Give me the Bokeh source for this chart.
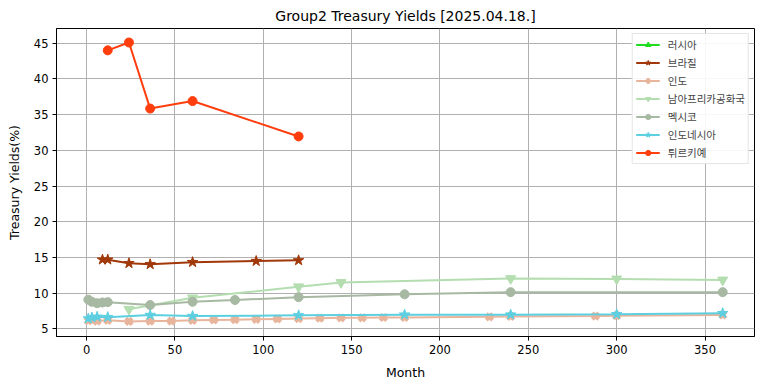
import math
from bokeh.plotting import figure
from bokeh.models import Range1d, FixedTicker, Legend
from bokeh.embed import file_html
from bokeh.resources import INLINE

title = "Group2 Treasury Yields [2025.04.18.]"
x_label = "Month"
y_label = "Treasury Yields(%)"
x_ticks = [0, 50, 100, 150, 200, 250, 300, 350]
y_ticks = [5, 10, 15, 20, 25, 30, 35, 40, 45]

# Russia has no plotted values in the reference (only a legend entry)
russia_m = [float("nan")]
russia_y = [float("nan")]
brazil_m = [9, 12, 24, 36, 60, 96, 120]
brazil_y = [14.7, 14.7, 14.2, 14.05, 14.35, 14.5, 14.6]
india_m = [1, 3, 6, 12, 24, 36, 48, 60, 72, 84, 96, 108, 120, 132, 144, 156, 168, 180, 228, 240, 288, 300, 360]
india_y = [6.15, 6.25, 6.1, 6.2, 6.05, 6.1, 6.1, 6.2, 6.25, 6.3, 6.35, 6.4, 6.45, 6.5, 6.55, 6.55, 6.6, 6.6, 6.7, 6.75, 6.8, 6.85, 6.95]
safrica_m = [24, 60, 120, 144, 240, 300, 360]
safrica_y = [7.75, 9.35, 10.9, 11.5, 12.05, 12.0, 11.85]
mexico_m = [1, 3, 6, 9, 12, 36, 60, 84, 120, 180, 240, 360]
mexico_y = [9.1, 8.8, 8.6, 8.7, 8.75, 8.35, 8.8, 9.05, 9.45, 9.85, 10.15, 10.15]
indonesia_m = [1, 3, 6, 12, 36, 60, 120, 180, 240, 300, 360]
indonesia_y = [6.45, 6.6, 6.7, 6.65, 6.95, 6.8, 6.9, 7.0, 7.0, 7.05, 7.2]
turkey_m = [12, 24, 36, 60, 120]
turkey_y = [44.0, 45.1, 35.85, 36.9, 31.95]

series = [
    ("러시아", russia_m, russia_y, "#1fdc1f", "triangle", -math.pi / 2, 9),
    ("브라질", brazil_m, brazil_y, "#a0380a", "star", 0, 11),
    ("인도", india_m, india_y, "#e8b49c", "x", 0, 9),
    ("남아프리카공화국", safrica_m, safrica_y, "#b4ddb0", "inverted_triangle", 0, 10),
    ("멕시코", mexico_m, mexico_y, "#a7b9a2", "circle", 0, 9),
    ("인도네시아", indonesia_m, indonesia_y, "#5ccfe0", "star", 0, 11),
    ("튀르키예", turkey_m, turkey_y, "#ff3d0d", "circle", 0, 9),
]

p = figure(
    frame_width=698, frame_height=308,
    x_range=Range1d(-17, 378), y_range=Range1d(3.94, 47.06),
    output_backend="svg", toolbar_location=None,
    min_border_left=56, min_border_right=1, min_border_top=22, min_border_bottom=44,
)
p.title.text = title
p.title.align = "center"
p.title.text_font = "DejaVu Sans"
p.title.text_font_size = "14px"
p.title.text_font_style = "normal"
p.title.text_color = "black"

for ax in (p.xaxis[0], p.yaxis[0]):
    ax.major_label_text_font = "DejaVu Sans"
    ax.major_label_text_font_size = "11.5px"
    ax.major_label_text_color = "black"
    ax.axis_label_text_font = "DejaVu Sans"
    ax.axis_label_text_font_size = "12.5px"
    ax.axis_label_text_font_style = "normal"
    ax.axis_label_text_color = "black"
    ax.minor_tick_line_color = None
    ax.major_tick_out = 4
    ax.major_tick_in = 0
    ax.axis_line_color = "black"
    ax.major_tick_line_color = "black"
    ax.major_label_standoff = 4

p.xaxis[0].axis_label_standoff = 8
p.yaxis[0].axis_label_standoff = 9
p.xaxis[0].axis_label = x_label
p.yaxis[0].axis_label = y_label
p.xaxis[0].ticker = FixedTicker(ticks=x_ticks)
p.yaxis[0].ticker = FixedTicker(ticks=y_ticks)

p.grid.grid_line_color = "#b0b0b0"
p.grid.grid_line_width = 1
p.outline_line_color = "black"
p.outline_line_width = 1
p.background_fill_color = "white"
p.border_fill_color = "white"

items = []
for name, m, y, color, marker, ang, size in series:
    r1 = p.line(m, y, line_color=color, line_width=2)
    if marker == "x":
        r2 = p.scatter(m, y, marker="x", size=size, line_color=color, line_width=4)
    else:
        r2 = p.scatter(m, y, marker=marker, size=size, fill_color=color, line_color=color, angle=ang)
    items.append((name, [r1, r2]))

legend = Legend(items=items, location="top_right")
legend.label_text_font = "Noto Sans CJK KR"
legend.label_text_font_size = "10.5px"
legend.glyph_width = 24
legend.glyph_height = 13
legend.label_height = 13
legend.spacing = 3
legend.padding = 3
legend.margin = 5
legend.label_standoff = 8
legend.border_line_color = "#cccccc"
legend.border_line_width = 1
legend.background_fill_alpha = 0.9
p.add_layout(legend)

open("out.html", "w").write(file_html(p, INLINE))
